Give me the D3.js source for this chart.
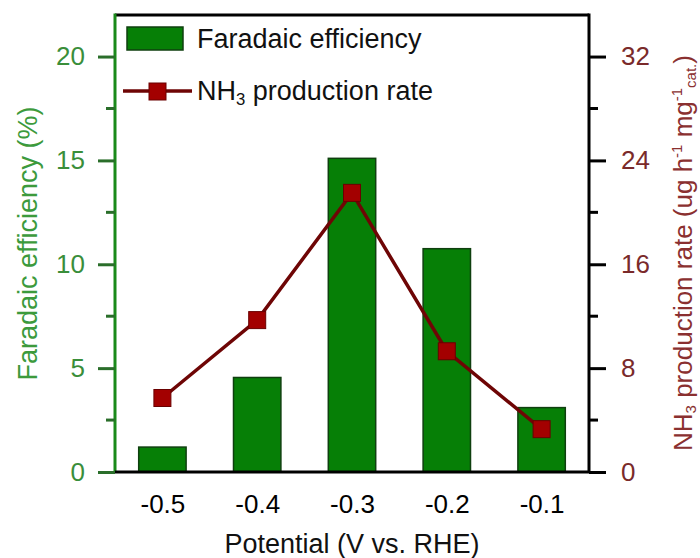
<!DOCTYPE html>
<html><head><meta charset="utf-8">
<script src="https://cdn.jsdelivr.net/npm/d3@7"></script>
<style>body{margin:0;background:#fff} svg text{font-family:"Liberation Sans",Arial,sans-serif}</style>
</head><body><svg id="c" width="700" height="558"></svg>
<script>
const potentials = [-0.5, -0.4, -0.3, -0.2, -0.1];
const xTickLabels = ["-0.5", "-0.4", "-0.3", "-0.2", "-0.1"];
const faradaicEfficiency = [1.2, 4.55, 15.1, 10.75, 3.1];
const productionRate = [5.7, 11.7, 21.5, 9.3, 3.3];
const leftTicks = [0, 5, 10, 15, 20];
const leftMinor = [2.5, 7.5, 12.5, 17.5];
const rightTicks = [0, 8, 16, 24, 32];
const rightMinor = [4, 12, 20, 28];

const svg = d3.select("#c");
const L = 115, R = 589, T = 15, B = 472;
const FS = 26, FT = 27;
const green = "#067f06", darkRed = "#6e0505";

const x = d3.scaleLinear().domain([-0.55, -0.05]).range([L, R]);
const yL = d3.scaleLinear().domain([0, 22]).range([B, T]);
const yR = d3.scaleLinear().domain([0, 35.2]).range([B, T]);
const bw = x(0.025) - x(-0.025);

// bars
svg.append("g").selectAll("rect").data(potentials).join("rect")
  .attr("x", (d) => x(d) - bw / 2)
  .attr("y", (d, i) => yL(faradaicEfficiency[i]))
  .attr("width", bw)
  .attr("height", (d, i) => B - yL(faradaicEfficiency[i]))
  .attr("fill", green).attr("stroke", "#0f3f0f").attr("stroke-width", 1.5);

// line
const pts = potentials.map((p, i) => [x(p), yR(productionRate[i])]);
svg.append("path").attr("d", d3.line()(pts)).attr("fill", "none")
  .attr("stroke", darkRed).attr("stroke-width", 3.5);
const ms = 17;
svg.append("g").selectAll("rect").data(pts).join("rect")
  .attr("x", (d) => d[0] - ms / 2).attr("y", (d) => d[1] - ms / 2)
  .attr("width", ms).attr("height", ms)
  .attr("fill", "#a30000").attr("stroke", "#6a0000").attr("stroke-width", 1);

// top border
svg.append("line").attr("x1", L).attr("x2", R).attr("y1", T).attr("y2", T)
  .attr("stroke", "#000").attr("stroke-width", 3);

// left axis
const gl = svg.append("g").attr("transform", `translate(${L},0)`)
  .call(d3.axisLeft(yL).tickValues(leftTicks).tickSize(17).tickPadding(13).tickSizeOuter(0));
gl.call(g => g.append("g").selectAll("line").data(leftMinor).join("line")
  .attr("x1", 0).attr("x2", -9).attr("y1", d => yL(d)).attr("y2", d => yL(d)));
gl.select(".domain").attr("stroke", "#1a8a1a").attr("stroke-width", 3).attr("d", `M0,${B}V${T - 1.5}`);
gl.selectAll("line").attr("stroke", "#2a6e2a").attr("stroke-width", 3);
gl.selectAll("text").attr("font-size", FS).attr("fill", "#3a8e3a").attr("font-family", null);

// right axis
const gr = svg.append("g").attr("transform", `translate(${R},0)`)
  .call(d3.axisRight(yR).tickValues(rightTicks).tickSize(17).tickPadding(15).tickSizeOuter(0));
gr.call(g => g.append("g").selectAll("line").data(rightMinor).join("line")
  .attr("x1", 0).attr("x2", 9).attr("y1", d => yR(d)).attr("y2", d => yR(d)));
gr.select(".domain").attr("stroke", "#000").attr("stroke-width", 3).attr("d", `M0,${B}V${T - 1.5}`);
gr.selectAll("line").attr("stroke", "#000").attr("stroke-width", 3);
gr.selectAll("text").attr("font-size", FS).attr("fill", "#7a2a2a").attr("font-family", null);

// bottom axis
const gb = svg.append("g").attr("transform", `translate(0,${B})`)
  .call(d3.axisBottom(x).tickValues(potentials).tickFormat((d, i) => xTickLabels[i]).tickSize(0).tickPadding(23));
gb.select(".domain").attr("stroke", "#000").attr("stroke-width", 3).attr("d", `M${L},0H${R}`);
gb.selectAll("text").attr("font-size", FS).attr("fill", "#000").attr("font-family", null);

// axis titles
svg.append("text").attr("x", 352).attr("y", 553).attr("text-anchor", "middle")
  .attr("font-size", FT).attr("fill", "#111").text("Potential (V vs. RHE)");
svg.append("text").attr("transform", `translate(37,${(T + B) / 2}) rotate(-90)`)
  .attr("text-anchor", "middle").attr("font-size", FT).attr("fill", "#3c9a3c")
  .text("Faradaic efficiency (%)");
const SS = 15;
const rt = svg.append("text").attr("transform", `translate(692,253) rotate(-90)`)
  .attr("text-anchor", "middle").attr("font-size", FS).attr("fill", "#8a3030");
rt.append("tspan").text("NH");
rt.append("tspan").attr("font-size", SS).attr("dy", 4).text("3");
rt.append("tspan").attr("dy", -4).text(" production rate (ug h");
rt.append("tspan").attr("font-size", SS).attr("dy", -10).text("-1");
rt.append("tspan").attr("dy", 10).text(" mg");
rt.append("tspan").attr("font-size", SS).attr("dy", -10).text("-1");
rt.append("tspan").attr("font-size", SS).attr("dy", 14).text("cat.");
rt.append("tspan").attr("dy", -4).text(")");

// legend
const lg = svg.append("g");
lg.append("rect").attr("x", 127).attr("y", 27).attr("width", 56).attr("height", 23)
  .attr("fill", green).attr("stroke", "#0f3f0f").attr("stroke-width", 1.5);
lg.append("text").attr("x", 197).attr("y", 48).attr("font-size", FT).attr("fill", "#111")
  .text("Faradaic efficiency");
lg.append("line").attr("x1", 123).attr("x2", 192).attr("y1", 91).attr("y2", 91)
  .attr("stroke", darkRed).attr("stroke-width", 3.5);
lg.append("rect").attr("x", 149).attr("y", 83).attr("width", ms).attr("height", ms)
  .attr("fill", "#a30000").attr("stroke", "#6a0000").attr("stroke-width", 1);
const lt = lg.append("text").attr("x", 197).attr("y", 100).attr("font-size", FT).attr("fill", "#111");
lt.append("tspan").text("NH");
lt.append("tspan").attr("font-size", FT * 0.62).attr("dy", 5).text("3");
lt.append("tspan").attr("dy", -5).text(" production rate");
</script></body></html>
